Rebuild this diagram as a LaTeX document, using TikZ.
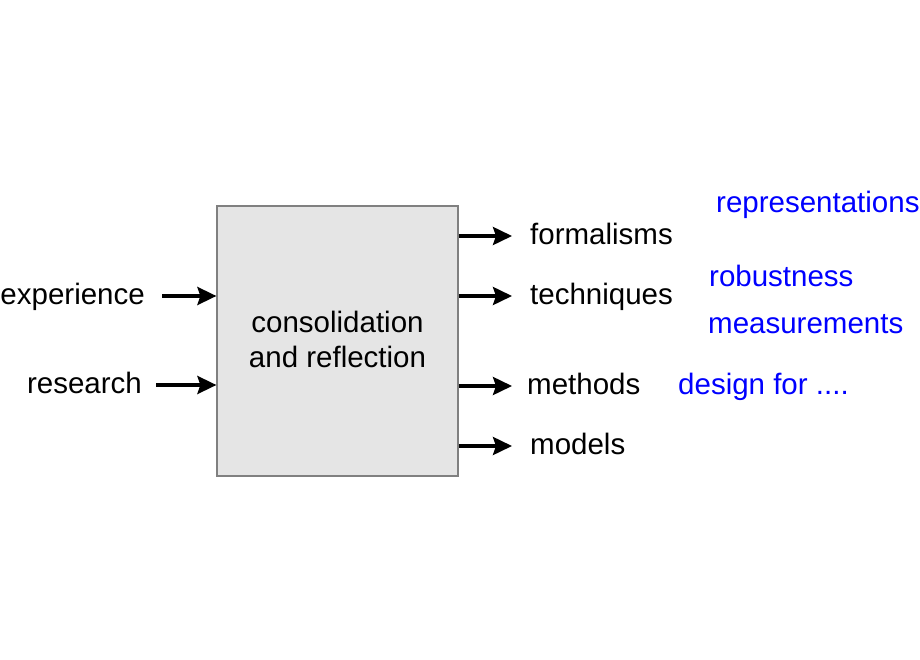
\documentclass[tikz,border=0pt]{standalone}
\usepackage{fontspec}
\setmainfont{Liberation Sans}
\usetikzlibrary{arrows.meta}

\definecolor{boxfill}{HTML}{E5E5E5}
\definecolor{boxline}{HTML}{808080}
\definecolor{noteblue}{HTML}{0000FF}

\tikzset{
  stage/.style={draw=boxline, line width=1.2pt, fill=boxfill,
    minimum width=241pt, minimum height=270pt, align=center, inner sep=0pt,
    text depth=4pt},
  lbl/.style={inner sep=0pt, text height=16pt, text depth=0pt, text=black},
  note/.style={lbl, text=noteblue, anchor=west},
  flow/.style={line width=3.5pt, -{Stealth[length=19pt,width=18pt,inset=3pt]}}
}

\begin{document}
\begin{tikzpicture}[x=1pt, y=-1pt, font=\fontsize{29.5}{35}\selectfont]
   \useasboundingbox (0,0) rectangle (920,660);

   % Central block
   \node[stage] (box) at (337.5,341) {consolidation\\and reflection};

   % Inputs
   \node[lbl, anchor=east] (exp) at (145,296) {experience};
   \node[lbl, anchor=east] (res) at (142,385) {research};
   \draw[flow, shorten <=17pt] (exp.east) -- (box.west |- exp.east);
   \draw[flow, shorten <=14pt] (res.east) -- (box.west |- res.east);

   % Outputs
   \node[lbl, anchor=west] (form) at (530,236) {formalisms};
   \node[lbl, anchor=west] (tech) at (530,296) {techniques};
   \node[lbl, anchor=west] (meth) at (527,386) {methods};
   \node[lbl, anchor=west] (mod) at (530,446) {models};
   \draw[flow, shorten >=18pt] (box.east |- form.west) -- (form.west);
   \draw[flow, shorten >=18pt] (box.east |- tech.west) -- (tech.west);
   \draw[flow, shorten >=15pt] (box.east |- meth.west) -- (meth.west);
   \draw[flow, shorten >=18pt] (box.east |- mod.west) -- (mod.west);

   % Notes
   \node[note] (repr) at (716,205) {representations};
   \node[note] (rob) at (709,278) {robustness};
   \node[note] (meas) at (708,325) {measurements};
   \node[note] (dsgn) at (678,386) {design for ....};
\end{tikzpicture}
\end{document}
